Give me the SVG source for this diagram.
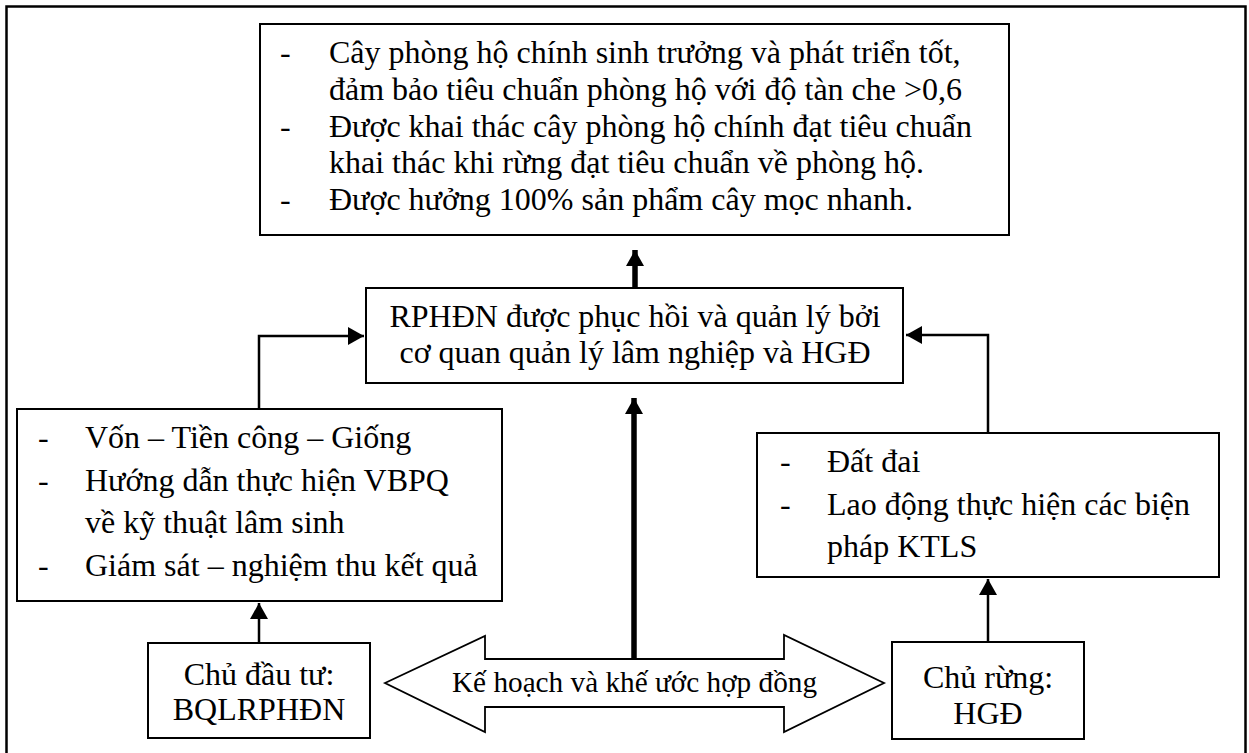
<svg xmlns="http://www.w3.org/2000/svg" width="1249" height="753" viewBox="0 0 1249 753">
<defs>
<style>
.t{font-family:"Liberation Serif","Times New Roman",serif;font-size:32px;fill:#000}
.c{text-anchor:middle}
.box{fill:#fff;stroke:#000;stroke-width:2}
.ln{fill:none;stroke:#000;stroke-width:2.5}
.thick{fill:none;stroke:#000;stroke-width:5.5}
</style>
<marker id="ah" viewBox="0 0 16 18" refX="16" refY="9" markerWidth="16" markerHeight="18" markerUnits="userSpaceOnUse" orient="auto">
<path d="M0,0 L16,9 L0,18 Z" fill="#000"/>
</marker>
</defs>
<rect x="0" y="0" width="1249" height="753" fill="#fff"/>
<rect x="6.5" y="6.5" width="1239" height="760" fill="none" stroke="#000" stroke-width="2.5"/>

<g id="connectors">
<path class="thick" d="M635,287 V250" marker-end="url(#ah)" style="stroke-width:5.5"/>
<path class="thick" d="M634,659 V398" marker-end="url(#ah)"/>
<path class="ln" d="M259,409 V336 H364" marker-end="url(#ah)"/>
<path class="ln" d="M988,433 V335 H906" marker-end="url(#ah)"/>
<path class="ln" d="M259,643 V603" marker-end="url(#ah)"/>
<path class="ln" d="M988,642 V579" marker-end="url(#ah)"/>
</g>

<g id="node-top">
<rect class="box" x="260" y="24" width="749" height="211"/>
<text class="t" x="280" y="63">-</text>
<text class="t" x="329" y="63">Cây phòng hộ chính sinh trưởng và phát triển tốt,</text>
<text class="t" x="329" y="100">đảm bảo tiêu chuẩn phòng hộ với độ tàn che &gt;0,6</text>
<text class="t" x="280" y="137">-</text>
<text class="t" x="329" y="137">Được khai thác cây phòng hộ chính đạt tiêu chuẩn</text>
<text class="t" x="329" y="173">khai thác khi rừng đạt tiêu chuẩn về phòng hộ.</text>
<text class="t" x="280" y="210">-</text>
<text class="t" x="329" y="210">Được hưởng 100% sản phẩm cây mọc nhanh.</text>
</g>

<g id="node-middle">
<rect class="box" x="366" y="288" width="537" height="95"/>
<text class="t c" x="635" y="327">RPHĐN được phục hồi và quản lý bởi</text>
<text class="t c" x="635" y="363">cơ quan quản lý lâm nghiệp và HGĐ</text>
</g>

<g id="node-left">
<rect class="box" x="17" y="409" width="485" height="192"/>
<text class="t" x="38" y="448">-</text>
<text class="t" x="85" y="448">Vốn – Tiền công – Giống</text>
<text class="t" x="38" y="491">-</text>
<text class="t" x="85" y="491">Hướng dẫn thực hiện VBPQ</text>
<text class="t" x="85" y="533">về kỹ thuật lâm sinh</text>
<text class="t" x="38" y="576">-</text>
<text class="t" x="85" y="576">Giám sát – nghiệm thu kết quả</text>
</g>

<g id="node-right">
<rect class="box" x="757" y="433" width="462" height="144"/>
<text class="t" x="780" y="472">-</text>
<text class="t" x="827" y="472">Đất đai</text>
<text class="t" x="780" y="515">-</text>
<text class="t" x="827" y="515">Lao động thực hiện các biện</text>
<text class="t" x="827" y="557">pháp KTLS</text>
</g>

<g id="node-investor">
<rect class="box" x="148" y="643" width="222" height="95"/>
<text class="t c" x="259" y="685">Chủ đầu tư:</text>
<text class="t c" x="259" y="720">BQLRPHĐN</text>
</g>

<g id="node-owner">
<rect class="box" x="892" y="642" width="192" height="97"/>
<text class="t c" x="988" y="688">Chủ rừng:</text>
<text class="t c" x="988" y="724">HGĐ</text>
</g>

<g id="node-contract">
<polygon points="385,683 485,636 485,659 784,659 784,635 884,683 784,732 784,707 485,707 485,732" fill="#fff" stroke="#000" stroke-width="1.8"/>
<text class="t c" x="634.5" y="692" style="font-size:30px" textLength="365" lengthAdjust="spacingAndGlyphs">Kế hoạch và khế ước hợp đồng</text>
</g>
</svg>
